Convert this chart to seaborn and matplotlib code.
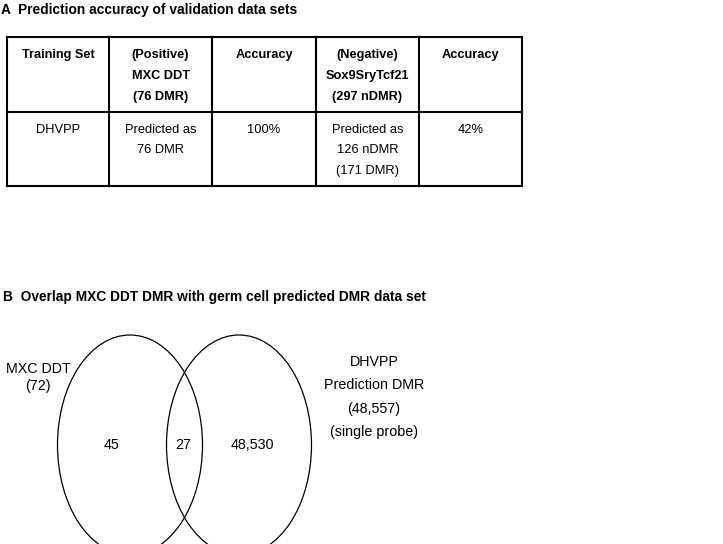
import matplotlib
matplotlib.use("Agg")
import matplotlib.pyplot as plt
from matplotlib.patches import Ellipse
import seaborn as sns

# ---- data ----
title_a = "A  Prediction accuracy of validation data sets"
title_b = "B  Overlap MXC DDT DMR with germ cell predicted DMR data set"
header_cells = [
    ["Training Set"],
    ["(Positive)", "MXC DDT", "(76 DMR)"],
    ["Accuracy"],
    ["(Negative)", "Sox9SryTcf21", "(297 nDMR)"],
    ["Accuracy"],
]
row_cells = [
    ["DHVPP"],
    ["Predicted as", "76 DMR"],
    ["100%"],
    ["Predicted as", "126 nDMR", "(171 DMR)"],
    ["42%"],
]
venn_only_left = "45"
venn_overlap = "27"
venn_only_right = "48,530"
left_label = ["MXC DDT", "(72)"]
right_label = ["DHVPP", "Prediction DMR", "(48,557)", "(single probe)"]

sns.set_theme(style="white")
plt.rcParams["font.family"] = ["Liberation Sans", "DejaVu Sans"]
plt.rcParams["text.color"] = "black"

fig = plt.figure(figsize=(7.23, 5.44), dpi=100)
ax = fig.add_axes([0, 0, 1, 1])
ax.set_xlim(0, 723)
ax.set_ylim(544, 0)
ax.axis("off")

# titles
ax.text(1, 10, title_a, fontsize=9.9, fontweight="bold", va="center", ha="left")
ax.text(3, 297, title_b, fontsize=9.9, fontweight="bold", va="center", ha="left")

# table grid
col_edges = [7, 109, 212, 316, 419, 522]
row_edges = [37, 112, 186]
lw = 1.5
for x in col_edges:
    ax.plot([x, x], [row_edges[0], row_edges[-1]], color="black", lw=lw,
            solid_capstyle="projecting")
for y in row_edges:
    ax.plot([col_edges[0], col_edges[-1]], [y, y], color="black", lw=lw,
            solid_capstyle="projecting")

header_y = [55, 76, 97]
row_y = [130, 150, 171]
for i in range(5):
    cx = (col_edges[i] + col_edges[i + 1]) / 2
    for j, line in enumerate(header_cells[i]):
        ax.text(cx, header_y[j], line, fontsize=9.2, fontweight="bold",
                ha="center", va="center", color="black")
    for j, line in enumerate(row_cells[i]):
        ax.text(cx, row_y[j], line, fontsize=9.3, ha="center", va="center",
                color="black")

# venn
for cx in (130, 239):
    ax.add_patch(Ellipse((cx, 445), 145, 220, fill=False, ec="black", lw=0.9))
ax.text(112, 445, venn_only_left, fontsize=10.3, ha="center", va="center")
ax.text(183, 445, venn_overlap, fontsize=10.3, ha="center", va="center")
ax.text(252, 445, venn_only_right, fontsize=10.3, ha="center", va="center")
for j, line in enumerate(left_label):
    ax.text(38, 369 + 17 * j, line, fontsize=10.3, ha="center", va="center")
for j, line in enumerate(right_label):
    ax.text(374, 362 + 23.3 * j, line, fontsize=10.3, ha="center", va="center")

fig.savefig("out.png", dpi=100, facecolor="white")
